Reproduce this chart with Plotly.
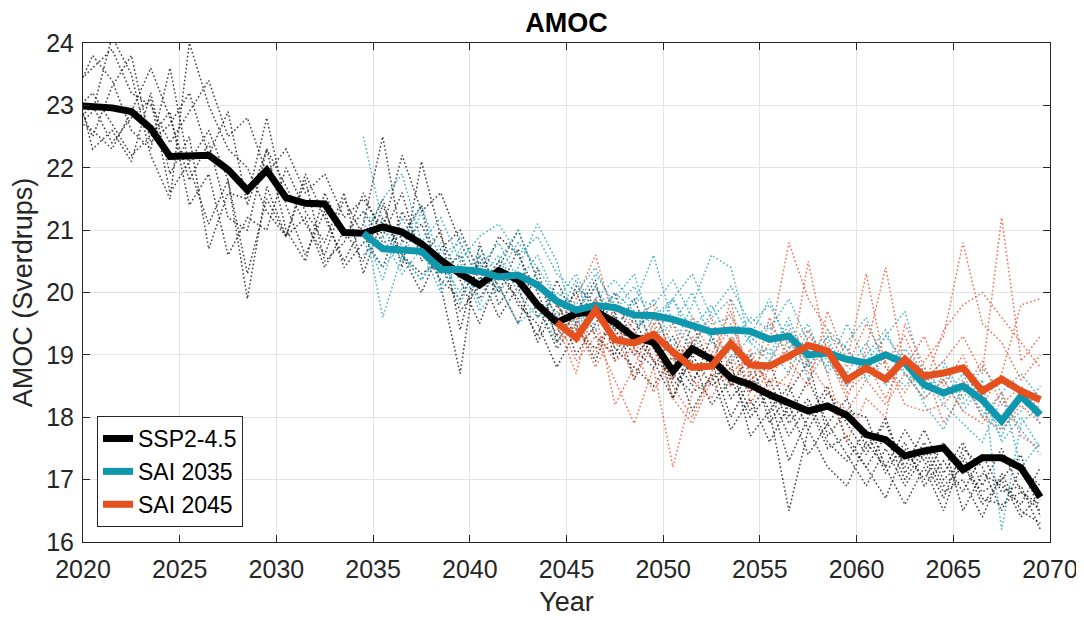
import numpy as np
import plotly.graph_objects as go

# ---------------- data ----------------
years_ssp = np.arange(2019.5, 2070.0, 1.0)   # 51 annual means
years_sai35 = np.arange(2034.5, 2070.0, 1.0)  # 36
years_sai45 = np.arange(2044.5, 2070.0, 1.0)  # 26

ssp_mean = [23.0, 22.98, 22.96, 22.9, 22.63, 22.18, 22.19, 22.2, 21.97, 21.64,
            21.96, 21.52, 21.43, 21.42, 20.96, 20.95, 21.05, 20.97, 20.78, 20.52,
            20.3, 20.12, 20.35, 20.2, 19.8, 19.52, 19.66, 19.7, 19.52, 19.28,
            19.2, 18.74, 19.1, 18.93, 18.63, 18.52, 18.36, 18.23, 18.1, 18.18,
            18.03, 17.72, 17.64, 17.38, 17.46, 17.51, 17.16, 17.35, 17.35, 17.19,
            16.72]

sai35_mean = [20.95, 20.7, 20.68, 20.66, 20.37, 20.37, 20.34, 20.25, 20.28, 20.12,
              19.86, 19.72, 19.79, 19.76, 19.64, 19.63, 19.57, 19.46, 19.37, 19.4,
              19.38, 19.25, 19.3, 19.0, 19.03, 18.93, 18.87, 19.0, 18.87, 18.52,
              18.39, 18.5, 18.28, 17.94, 18.34, 18.04]

sai45_mean = [19.52, 19.27, 19.72, 19.24, 19.19, 19.33, 19.05, 18.8, 18.82, 19.18,
              18.84, 18.82, 18.98, 19.15, 19.06, 18.6, 18.79, 18.61, 18.93, 18.66,
              18.71, 18.79, 18.42, 18.61, 18.42, 18.28]

ssp_members = [
    [23.3, 23.6, 23.9, 23.2, 23.0, 22.4, 22.9, 23.4, 22.5, 22.8,
     21.9, 22.3, 21.6, 21.9, 21.2, 21.5, 21.0, 22.2, 21.3, 21.6,
     20.8, 20.2, 20.9, 20.6, 20.0, 19.3, 20.1, 19.8, 19.4, 19.9,
     19.1, 18.6, 19.5, 18.8, 19.2, 18.4, 18.9, 18.0, 18.6, 17.9,
     18.3, 17.5, 17.9, 17.2, 17.8, 17.1, 17.6, 16.9, 17.5, 16.8,
     16.6],
    [22.8, 22.6, 22.3, 22.9, 23.6, 22.8, 21.8, 22.4, 21.2, 21.0,
     22.3, 21.7, 21.1, 20.6, 21.5, 20.9, 20.4, 21.3, 20.7, 20.2,
     19.9, 20.5, 20.0, 20.7, 19.6, 19.9, 19.0, 19.5, 20.0, 19.1,
     18.8, 19.3, 18.6, 19.0, 18.3, 18.7, 18.1, 18.5, 17.8, 18.4,
     17.9, 17.4, 18.0, 17.1, 17.6, 17.0, 17.3, 16.6, 17.0, 17.4,
     16.4],
    [23.1, 23.8, 23.4, 22.6, 22.3, 23.6, 22.0, 21.1, 21.8, 20.3,
     21.5, 20.9, 21.9, 21.2, 20.5, 21.1, 22.5, 20.8, 21.1, 20.3,
     20.6, 19.9, 20.4, 21.0, 20.2, 19.6, 20.0, 19.3, 19.0, 19.6,
     18.9, 18.3, 19.0, 18.5, 18.8, 18.1, 18.6, 17.9, 18.3, 17.6,
     17.3, 17.8, 17.1, 17.6, 16.9, 17.3, 16.8, 17.4, 16.8, 16.9,
     16.2],
    [22.6, 22.9, 24.1, 23.5, 22.2, 21.5, 24.0, 23.0, 22.3, 22.0,
     21.3, 20.9, 21.8, 20.5, 20.8, 21.6, 20.9, 21.6, 20.5, 21.0,
     19.4, 20.6, 20.1, 19.5, 20.4, 19.2, 19.7, 20.2, 18.9, 19.4,
     19.7, 19.0, 18.5, 19.3, 18.5, 19.0, 17.9, 18.4, 18.9, 17.7,
     18.1, 18.0, 17.2, 17.8, 17.3, 16.7, 17.5, 17.2, 16.5, 17.2,
     16.9],
    [23.5, 22.3, 22.6, 22.1, 23.2, 21.9, 22.5, 20.7, 21.6, 21.5,
     22.8, 21.4, 20.6, 21.3, 20.4, 20.8, 21.5, 20.4, 22.1, 20.9,
     20.2, 19.5, 20.3, 19.9, 19.3, 20.2, 19.5, 18.9, 19.7, 18.6,
     19.4, 18.3, 19.2, 18.9, 18.0, 18.6, 18.3, 17.3, 18.0, 18.5,
     17.6, 17.2, 16.7, 17.5, 17.0, 17.6, 16.5, 17.1, 16.9, 16.6,
     17.2],
    [22.9, 23.2, 22.7, 22.2, 22.5, 22.9, 21.4, 21.9, 20.6, 21.2,
     21.0, 22.0, 21.3, 20.8, 21.6, 20.3, 21.2, 20.6, 20.0, 20.7,
     21.0, 20.3, 19.6, 20.1, 19.2, 19.8, 19.3, 19.9, 19.1, 18.8,
     18.5, 19.0, 18.1, 18.7, 17.8, 18.3, 17.6, 18.2, 17.4, 17.9,
     17.4, 16.9, 17.5, 16.9, 17.4, 16.8, 17.0, 16.4, 17.1, 16.5,
     16.3],
    [23.2, 22.5, 23.3, 23.8, 22.4, 22.7, 23.2, 22.2, 22.9, 21.4,
     22.3, 21.0, 20.5, 21.6, 20.9, 21.3, 20.8, 20.9, 21.4, 20.1,
     18.7, 20.8, 19.8, 20.3, 19.8, 19.1, 19.5, 20.1, 19.4, 19.0,
     19.3, 18.5, 18.9, 18.2, 18.6, 18.0, 18.4, 17.7, 18.2, 17.5,
     17.7, 17.2, 17.7, 17.0, 17.5, 16.9, 17.2, 16.8, 17.0, 16.4,
     16.8],
    [22.7, 23.0, 22.4, 22.8, 23.1, 21.6, 22.1, 22.6, 21.8, 19.9,
     21.7, 20.9, 21.2, 20.4, 21.0, 20.5, 21.4, 20.6, 20.3, 20.5,
     19.7, 20.1, 20.5, 19.8, 19.5, 18.8, 19.4, 19.1, 19.6, 19.3,
     18.9, 18.7, 18.4, 18.6, 18.9, 17.7, 18.1, 16.5, 17.8, 17.2,
     16.9, 17.6, 17.2, 16.6, 17.2, 16.5, 17.4, 16.7, 16.6, 16.8,
     16.5],
]

sai35_members = [
    [20.9, 21.5, 21.9, 20.8, 21.2, 20.5, 20.9, 21.1, 20.6, 20.9,
     20.3, 20.0, 20.4, 19.7, 20.1, 19.5, 19.9, 20.3, 19.6, 19.9,
     19.3, 19.0, 19.6, 18.8, 19.3, 18.5, 19.0, 19.4, 18.7, 18.3,
     18.6, 18.1, 18.5, 17.6, 18.0, 17.5],
    [22.5, 21.1, 20.5, 21.3, 20.1, 20.7, 19.8, 20.5, 21.0, 20.2,
     19.6, 20.2, 19.4, 19.9, 20.3, 19.3, 19.5, 19.1, 19.7, 20.1,
     19.5, 19.8, 19.2, 18.9, 19.4, 19.1, 18.7, 19.3, 18.9, 18.4,
     18.8, 18.2, 18.6, 16.2, 17.9, 18.2],
    [21.2, 19.6, 20.6, 20.2, 20.8, 19.8, 20.6, 20.0, 20.4, 21.1,
     20.5, 19.4, 19.9, 20.2, 19.8, 20.6, 19.5, 20.0, 19.2, 18.9,
     19.3, 19.9, 19.1, 19.5, 18.7, 19.2, 19.6, 18.8, 18.5, 18.8,
     18.3, 18.7, 18.0, 18.4, 17.2, 17.6],
    [20.6, 20.9, 20.3, 20.7, 20.0, 20.5, 19.7, 20.1, 19.5, 19.8,
     19.2, 19.7, 20.1, 19.6, 19.3, 19.9, 19.1, 19.8, 20.6, 20.4,
     19.2, 18.9, 19.5, 18.6, 19.1, 18.7, 19.2, 18.5, 18.9, 18.2,
     17.8, 18.5, 18.1, 17.7, 18.4, 17.9],
    [21.0, 20.2, 21.2, 20.6, 20.3, 20.9, 20.4, 20.8, 20.2, 20.6,
     19.9, 20.3, 19.6, 20.0, 19.7, 19.2, 19.9, 19.4, 19.8, 19.2,
     19.6, 19.4, 19.9, 19.2, 18.8, 19.5, 18.9, 19.3, 19.7, 18.6,
     18.9, 18.3, 18.8, 18.4, 18.7, 18.3],
    [20.8, 20.4, 20.8, 21.4, 20.5, 20.0, 20.7, 20.3, 20.8, 20.4,
     19.9, 19.5, 19.8, 19.4, 19.9, 19.8, 20.2, 19.6, 19.3, 19.0,
     19.0, 19.1, 18.7, 19.4, 18.9, 18.5, 18.9, 18.6, 19.1, 18.7,
     18.2, 17.9, 17.6, 18.3, 17.8, 17.4],
    [21.3, 21.0, 20.6, 20.2, 20.6, 20.8, 20.2, 20.6, 20.0, 19.6,
     20.0, 19.8, 20.3, 19.8, 19.5, 19.6, 19.9, 19.2, 19.5, 19.6,
     19.2, 19.5, 19.0, 18.8, 19.3, 19.1, 18.6, 19.0, 18.7, 18.5,
     18.6, 18.8, 18.2, 17.8, 18.1, 18.5],
]

sai45_members = [
    [19.4, 19.9, 20.6, 19.5, 19.0, 19.6, 18.6, 19.3, 18.9, 19.5,
     18.7, 19.2, 20.8, 19.9, 19.4, 18.8, 19.5, 18.9, 19.3, 18.6,
     18.9, 19.3, 18.7, 21.2, 18.9, 19.3],
    [19.6, 18.9, 19.3, 18.6, 17.9, 18.8, 17.2, 18.4, 18.9, 18.5,
     19.1, 18.4, 18.7, 20.5, 19.0, 18.3, 19.1, 20.4, 18.8, 19.3,
     18.5, 19.0, 18.2, 18.7, 19.8, 19.9],
    [19.3, 19.6, 19.0, 19.8, 19.4, 18.9, 19.5, 18.6, 18.3, 19.0,
     18.4, 19.6, 18.9, 18.5, 19.7, 18.9, 20.3, 18.8, 18.4, 18.9,
     19.3, 20.8, 19.5, 19.2, 18.6, 19.0],
    [19.5, 18.7, 19.9, 19.1, 19.6, 19.8, 18.9, 19.2, 19.6, 18.7,
     19.0, 18.5, 19.3, 18.9, 18.4, 18.1, 18.6, 18.2, 18.7, 18.3,
     18.6, 18.1, 17.9, 18.4, 17.7, 17.5],
    [19.7, 19.2, 19.4, 18.9, 19.1, 18.4, 19.0, 19.6, 19.0, 19.7,
     18.6, 18.9, 19.4, 18.7, 19.2, 18.5, 18.9, 18.3, 19.0, 18.5,
     19.4, 19.8, 20.0, 19.6, 19.2, 18.8],
    [19.2, 19.5, 18.8, 19.4, 18.6, 19.2, 18.3, 17.9, 18.6, 19.3,
     18.9, 18.6, 18.5, 19.3, 19.0, 18.4, 18.7, 18.9, 18.2, 18.1,
     18.2, 18.6, 18.0, 17.8, 18.2, 17.9],
    [19.8, 19.4, 19.7, 18.2, 18.8, 19.5, 18.5, 18.0, 18.7, 19.9,
     18.2, 18.8, 19.1, 19.4, 18.7, 17.6, 18.3, 18.0, 19.5, 18.8,
     17.9, 18.4, 18.9, 18.2, 18.5, 18.1],
]

x_ticks = [2020, 2025, 2030, 2035, 2040, 2045, 2050, 2055, 2060, 2065, 2070]
y_ticks = [16, 17, 18, 19, 20, 21, 22, 23, 24]

# ---------------- style ----------------
C_SSP = "#000000"
C_35 = "#0F97AE"
C_45 = "#E5501F"
C_SSP_M = "rgba(30,30,30,0.85)"
C_35_M = "rgba(45,170,200,0.9)"
C_45_M = "rgba(238,95,60,0.9)"
FONT = "Liberation Sans, Arial, sans-serif"
TXT = "#262626"
DOT = "1.6px,2.4px"

fig = go.Figure()

for m in ssp_members:
    fig.add_trace(go.Scatter(x=years_ssp, y=m, mode="lines", showlegend=False,
                             hoverinfo="skip",
                             line=dict(color=C_SSP_M, width=1.5, dash=DOT)))
for m in sai35_members:
    fig.add_trace(go.Scatter(x=years_sai35, y=m, mode="lines", showlegend=False,
                             hoverinfo="skip",
                             line=dict(color=C_35_M, width=1.5, dash=DOT)))
for m in sai45_members:
    fig.add_trace(go.Scatter(x=years_sai45, y=m, mode="lines", showlegend=False,
                             hoverinfo="skip",
                             line=dict(color=C_45_M, width=1.5, dash=DOT)))

fig.add_trace(go.Scatter(x=years_ssp, y=ssp_mean, mode="lines", name="SSP2-4.5",
                         line=dict(color=C_SSP, width=7)))
fig.add_trace(go.Scatter(x=years_sai35, y=sai35_mean, mode="lines", name="SAI 2035",
                         line=dict(color=C_35, width=7)))
fig.add_trace(go.Scatter(x=years_sai45, y=sai45_mean, mode="lines", name="SAI 2045",
                         line=dict(color=C_45, width=7)))

axis_common = dict(
    showline=True, linecolor=TXT, linewidth=1, mirror="ticks",
    ticks="inside", ticklen=7, tickwidth=1, tickcolor=TXT,
    showgrid=True, gridcolor="#E3E3E3", gridwidth=1,
    zeroline=False, automargin=False,
    tickfont=dict(family=FONT, size=25, color=TXT),
)

# page body has an 8px default margin, so the figure is sized to fit the window
fig.update_layout(
    width=1076, height=612,
    margin=dict(l=75, r=34, t=35, b=78, autoexpand=False),
    paper_bgcolor="white", plot_bgcolor="white",
    font=dict(family=FONT, color=TXT),
    title=dict(text="<b>AMOC</b>", x=0.519, xanchor="center",
               y=0.977, yanchor="middle", yref="container", automargin=False,
               font=dict(family=FONT, size=27, color="#000000")),
    xaxis=dict(range=[2020, 2070], tickvals=x_ticks, ticklabelstandoff=5,
               title=dict(text="Year", font=dict(family=FONT, size=27, color=TXT),
                          standoff=10),
               **axis_common),
    yaxis=dict(range=[16, 24], tickvals=y_ticks, ticklabelstandoff=3,
               title=dict(text="AMOC (Sverdrups)", font=dict(family=FONT, size=27, color=TXT),
                          standoff=6),
               **axis_common),
    legend=dict(x=0.0145, y=0.03, xanchor="left", yanchor="bottom",
                bgcolor="white", bordercolor=TXT, borderwidth=1,
                font=dict(family=FONT, size=23, color="#000000"),
                tracegroupgap=0, itemwidth=30),
    showlegend=True,
)

fig.write_html("out.html")
